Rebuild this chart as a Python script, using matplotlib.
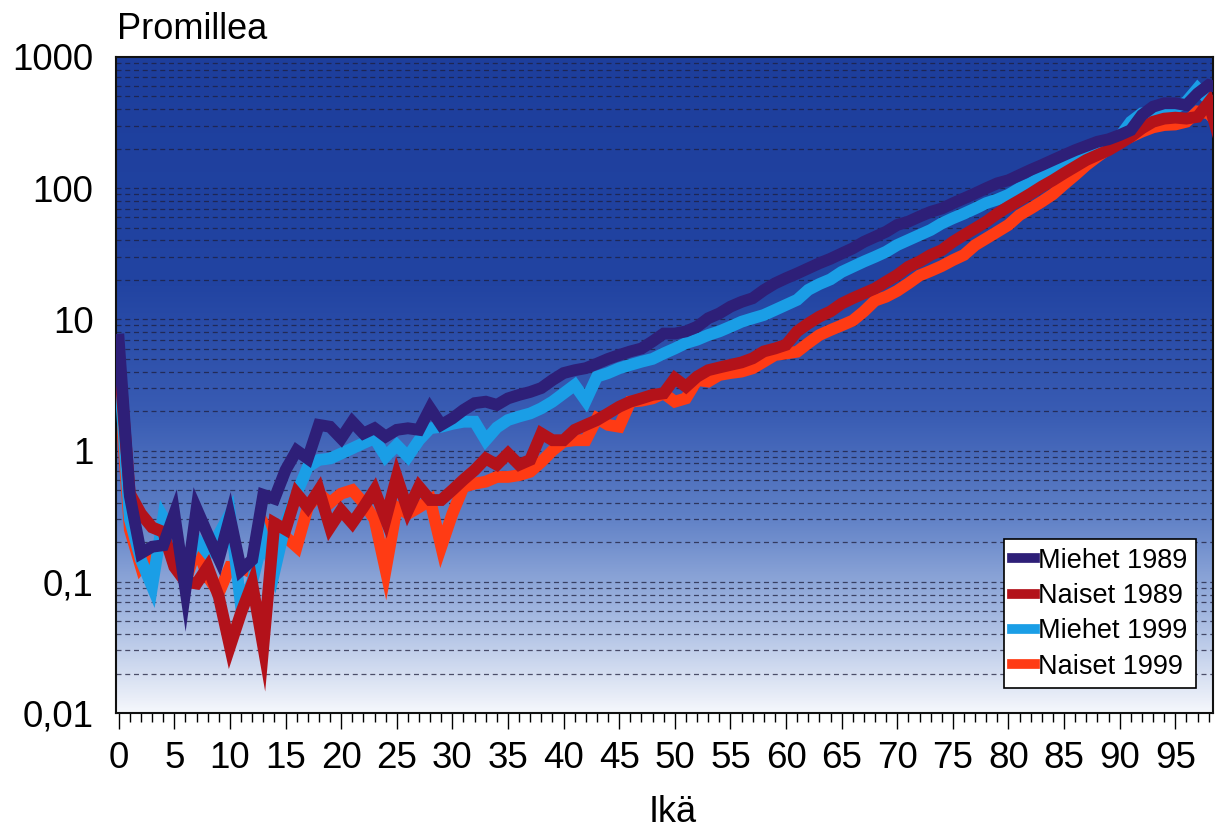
"""Kuolleisuus iän mukaan, miehet ja naiset 1989 ja 1999."""

import numpy as np
import matplotlib
matplotlib.use("Agg")
import matplotlib.pyplot as plt
from matplotlib.ticker import FixedLocator, MultipleLocator, NullFormatter
from matplotlib.colors import LinearSegmentedColormap

plt.rcParams["font.family"] = ["Liberation Sans", "DejaVu Sans"]

ages = list(range(100))

miehet_1989 = [
    7.0, 0.45, 0.165, 0.185, 0.19, 0.33, 0.087, 0.36, 0.23, 0.15,
    0.31, 0.123, 0.147, 0.46, 0.43, 0.71, 1.0, 0.87, 1.57, 1.52,
    1.24, 1.66, 1.35, 1.48, 1.28, 1.44, 1.48, 1.44, 2.1, 1.57,
    1.76, 2.04, 2.3, 2.36, 2.23, 2.5, 2.66, 2.8, 3.0, 3.45,
    3.9, 4.1, 4.25, 4.6, 5.0, 5.35, 5.7, 6.0, 6.8, 7.8,
    7.8, 8.1, 8.8, 10.2, 11.1, 12.5, 13.6, 14.5, 16.7, 18.8,
    20.6, 22.4, 24.5, 26.8, 29.0, 31.8, 34.8, 39, 42.6, 46.6,
    52.5, 55.6, 60.8, 66, 70, 76.7, 83.6, 91.2, 100, 109,
    115, 126, 138, 150, 164, 179, 195, 210, 226, 236,
    254, 277, 361, 418, 444, 444, 430, 526, 611, 580,
]

naiset_1989 = [
    5.5, 0.47, 0.33, 0.26, 0.24, 0.13, 0.10, 0.097, 0.13, 0.077,
    0.032, 0.058, 0.097, 0.032, 0.28, 0.25, 0.47, 0.37, 0.50, 0.26,
    0.35, 0.28, 0.37, 0.50, 0.30, 0.63, 0.35, 0.53, 0.42, 0.42,
    0.50, 0.60, 0.71, 0.87, 0.78, 0.95, 0.78, 0.85, 1.35, 1.2,
    1.2, 1.44, 1.57, 1.71, 1.92, 2.16, 2.36, 2.5, 2.66, 2.73,
    3.56, 3.07, 3.66, 4.1, 4.3, 4.5, 4.7, 5.05, 5.7, 6.0,
    6.4, 8.1, 9.3, 10.5, 11.5, 13.2, 14.5, 15.8, 17.2, 19.4,
    21.8, 25.2, 27.6, 31, 33.7, 39, 44, 49.4, 55.6, 64,
    72.4, 81, 91, 103, 115, 130, 146, 164, 179, 195,
    219, 247, 286, 321, 339, 345, 339, 350, 450, 230,
]

miehet_1999 = [
    4.5, 0.3, 0.147, 0.092, 0.31, 0.22, 0.13, 0.21, 0.165, 0.23,
    0.33, 0.065, 0.10, 0.22, 0.12, 0.28, 0.47, 0.75, 0.85, 0.87,
    0.95, 1.04, 1.14, 1.24, 0.90, 1.10, 0.90, 1.2, 1.48, 1.52,
    1.6, 1.66, 1.66, 1.2, 1.5, 1.71, 1.82, 1.92, 2.1, 2.36,
    2.73, 3.16, 2.4, 3.66, 3.9, 4.24, 4.5, 4.76, 5.0, 5.5,
    6.0, 6.6, 7.0, 7.6, 8.1, 8.8, 9.6, 10.2, 10.8, 11.8,
    12.9, 14.1, 16.8, 18.6, 20.2, 23, 25.2, 27.6, 30, 32.8,
    36.9, 40.3, 44, 48, 53.9, 59, 64, 70, 77, 82,
    89, 100, 109, 123, 134, 146, 159, 174, 190, 213,
    247, 321, 372, 384, 391, 407, 457, 576, 470, 420,
]

naiset_1999 = [
    3.5, 0.25, 0.13, 0.165, 0.21, 0.165, 0.10, 0.185, 0.11, 0.082,
    0.13, 0.13, 0.116, 0.28, 0.20, 0.22, 0.185, 0.37, 0.47, 0.40,
    0.47, 0.50, 0.40, 0.30, 0.123, 0.37, 0.33, 0.37, 0.42, 0.185,
    0.33, 0.53, 0.56, 0.58, 0.63, 0.63, 0.65, 0.69, 0.82, 1.0,
    1.17, 1.2, 1.2, 1.76, 1.57, 1.52, 2.36, 2.4, 2.5, 2.73,
    2.36, 2.5, 3.45, 3.36, 3.77, 3.9, 4.0, 4.24, 4.76, 5.35,
    5.5, 5.67, 6.6, 7.6, 8.3, 9.0, 9.8, 11.5, 13.9, 14.9,
    16.5, 18.8, 21.6, 23.4, 25.5, 28.3, 31, 36.8, 41.4, 46.6,
    52.5, 62.5, 70, 79, 90, 107, 126, 150, 174, 200,
    226, 247, 270, 291, 303, 306, 321, 384, 372, 300,
]

y_ticks = [0.01, 0.1, 1, 10, 100, 1000]
y_labels = ["0,01", "0,1", "1", "10", "100", "1000"]
x_ticks = list(range(0, 100, 5))


def main():
    fig = plt.figure(figsize=(12.18, 8.32), dpi=100)
    ax = fig.add_axes([0.095, 0.143, 0.901, 0.7885])

    # taustan liukuväri: tumma sininen ylhäällä, valkoinen alhaalla
    bg = LinearSegmentedColormap.from_list(
        "bg",
        [
            (0.00, "#1d3e9c"),
            (0.35, "#2244a2"),
            (0.55, "#3a5db4"),
            (0.70, "#5f80c6"),
            (0.85, "#a2b7e0"),
            (1.00, "#f5f7fc"),
        ],
    )
    grad = np.linspace(0, 1, 256).reshape(-1, 1)
    ax.imshow(grad, cmap=bg, aspect="auto", extent=[0, 1, 0, 1],
              transform=ax.transAxes, zorder=0)

    ax.set_yscale("log")
    ax.set_ylim(0.01, 1000)
    ax.set_xlim(-0.27, 98.4)

    minors = [m * 10.0 ** e for e in range(-2, 3) for m in range(2, 10)]
    for v in minors + y_ticks[1:-1]:
        ax.axhline(v, color="#1e1e3c", lw=0.9, ls=(0, (4, 3)), alpha=0.75, zorder=1)

    series = [
        ("Naiset 1999", naiset_1999, "#ff3b14", 2),
        ("Miehet 1999", miehet_1999, "#1a9ee6", 3),
        ("Naiset 1989", naiset_1989, "#b3121a", 4),
        ("Miehet 1989", miehet_1989, "#2e1f78", 5),
    ]
    handles = {}
    for name, vals, col, z in series:
        (ln,) = ax.plot(ages, vals, color=col, lw=8.5, zorder=z,
                        solid_joinstyle="miter")
        handles[name] = ln

    order = ["Miehet 1989", "Naiset 1989", "Miehet 1999", "Naiset 1999"]
    leg = ax.legend(
        [handles[n] for n in order], order,
        loc="lower right", bbox_to_anchor=(0.984, 0.038),
        fontsize=19.5, frameon=True, fancybox=False,
        handlelength=0.85, handletextpad=0.1, borderpad=0.3,
        labelspacing=0.35, borderaxespad=0,
    )
    for h in leg.legend_handles:
        h.set_linewidth(7)
    leg.get_frame().set_edgecolor("black")
    leg.get_frame().set_linewidth(1.2)
    leg.get_frame().set_facecolor("white")
    leg.get_frame().set_alpha(1)
    leg.set_zorder(10)

    ax.yaxis.set_major_locator(FixedLocator(y_ticks))
    ax.set_yticklabels(y_labels)
    ax.yaxis.set_minor_formatter(NullFormatter())
    ax.tick_params(axis="y", which="both", length=0, pad=16, labelsize=26.5)

    ax.xaxis.set_major_locator(FixedLocator(x_ticks))
    ax.xaxis.set_minor_locator(MultipleLocator(1))
    ax.tick_params(axis="x", which="major", direction="out", length=11.5,
                   width=1, pad=9, labelsize=26.5)
    ax.tick_params(axis="x", which="minor", direction="out", length=6.5, width=1)

    for s in ax.spines.values():
        s.set_linewidth(1.5)
        s.set_color("#111111")

    fig.text(0.096, 0.965, "Promillea", fontsize=26, ha="left", va="center")
    fig.text(0.552, 0.023, "Ikä", fontsize=26, ha="center", va="center")

    fig.savefig("out.png", dpi=100)


if __name__ == "__main__":
    main()
